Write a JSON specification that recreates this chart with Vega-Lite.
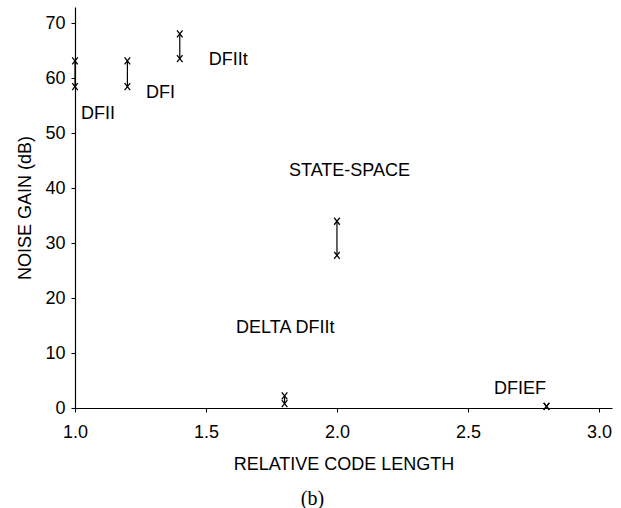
{
  "$schema": "https://vega.github.io/schema/vega-lite/v6.json",
  "autosize": {"type": "none"},
  "width": 537,
  "height": 401,
  "padding": {"left": 75, "top": 7, "right": 9, "bottom": 100},
  "background": "white",
  "title": {"text": "(b)", "orient": "bottom", "anchor": "middle", "font": "Liberation Serif", "fontSize": 20, "fontWeight": "normal", "color": "black", "offset": 16, "dx": -31},
  "config": {
    "view": {"stroke": null},
    "font": "Liberation Sans",
    "axis": {"grid": false, "domainColor": "black", "tickColor": "black", "labelColor": "black", "titleColor": "black", "labelFont": "Liberation Sans", "titleFont": "Liberation Sans", "labelFontSize": 18, "titleFontSize": 18, "titleFontWeight": "normal", "tickSize": 4, "domainWidth": 1.2, "labelFlush": false}
  },
  "datasets": {
    "ranges": [
      {"design": "DFII", "length": 1.0, "low": 58.5, "high": 63.2},
      {"design": "DFI", "length": 1.2, "low": 58.5, "high": 63.2},
      {"design": "DFIIt", "length": 1.4, "low": 63.6, "high": 68.1},
      {"design": "STATE-SPACE", "length": 2.0, "low": 27.8, "high": 34.0},
      {"design": "DELTA DFIIt", "length": 1.8, "low": 0.8, "high": 2.2},
      {"design": "DFIEF", "length": 2.8, "low": 0.3, "high": 0.3}
    ],
    "labels": [
      {"design": "DFII", "lx": 1.023, "ly": 53.6},
      {"design": "DFI", "lx": 1.271, "ly": 57.4},
      {"design": "DFIIt", "lx": 1.511, "ly": 63.3},
      {"design": "STATE-SPACE", "lx": 1.817, "ly": 43.2},
      {"design": "DELTA DFIIt", "lx": 1.615, "ly": 14.6},
      {"design": "DFIEF", "lx": 2.6, "ly": 3.5}
    ]
  },
  "layer": [
    {
      "data": {"name": "ranges"},
      "mark": {"type": "rule", "color": "black", "strokeWidth": 1.2},
      "encoding": {
        "x": {"field": "length", "type": "quantitative", "scale": {"domain": [1, 3.05], "nice": false, "zero": false}, "axis": {"values": [1, 1.5, 2, 2.5, 3], "format": ".1f", "title": "RELATIVE CODE LENGTH", "titlePadding": 14, "labelPadding": 11}},
        "y": {"field": "low", "type": "quantitative", "scale": {"domain": [0, 73], "nice": false}, "axis": {"values": [0, 10, 20, 30, 40, 50, 60, 70], "title": "NOISE GAIN (dB)", "titlePadding": 10, "labelPadding": 6}},
        "y2": {"field": "high"}
      }
    },
    {
      "data": {"name": "ranges"},
      "transform": [{"fold": ["low", "high"], "as": ["end", "gain"]}],
      "mark": {"type": "point", "shape": "M-0.8,-1L0.8,1M-0.8,1L0.8,-1", "size": 49, "stroke": "black", "strokeWidth": 1.3, "filled": false, "opacity": 1},
      "encoding": {
        "x": {"field": "length", "type": "quantitative"},
        "y": {"field": "gain", "type": "quantitative"}
      }
    },
    {
      "data": {"name": "labels"},
      "mark": {"type": "text", "align": "left", "baseline": "middle", "fontSize": 18, "font": "Liberation Sans", "color": "black"},
      "encoding": {
        "x": {"field": "lx", "type": "quantitative"},
        "y": {"field": "ly", "type": "quantitative"},
        "text": {"field": "design"}
      }
    }
  ]
}
